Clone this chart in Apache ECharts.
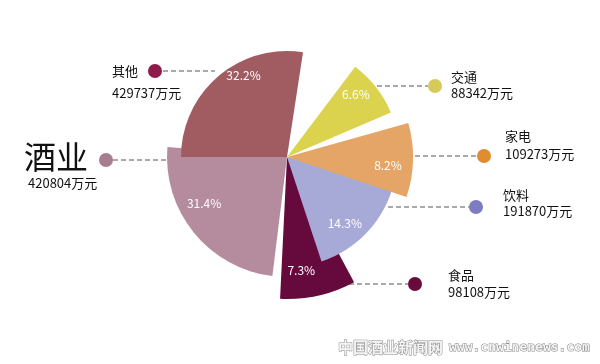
<!DOCTYPE html>
<html><head><meta charset="utf-8">
<script src="https://cdn.jsdelivr.net/npm/echarts@6/dist/echarts.min.js"></script>
<style>html,body{margin:0;padding:0;background:#fff}#c{width:600px;height:364px}</style>
</head><body><div id="c"></div>
<script>
// ---- data ----
const names = ['其他', '交通', '家电', '饮料', '食品', '酒业'];
const values = [429737, 88342, 109273, 191870, 98108, 420804];
const percents = ['32.2%', '6.6%', '8.2%', '14.3%', '7.3%', '31.4%'];
const unit = '万元';

// ---- layout / style (not data) ----
const CX = 287, CY = 157;
const FONT = '"Noto Sans CJK SC", "Noto Sans", sans-serif';
const geom = {
  '其他': { start: 180, end: 81.3, r: 106, color: '#a05c60', dot: '#8e1b4b', lab: [-7, -39],
           dotXY: [155, 71], line: [163, 215], nameXY: [112, 71], valXY: [112, 93], nameSize: 13 },
  '交通': { start: 52.9, end: 23.2, r: 113, color: '#dbd34d', dot: '#d6cb5a', lab: [22, -26],
           dotXY: [435, 86], line: [377, 428], nameXY: [451, 77], valXY: [451, 93], nameSize: 13 },
  '家电': { start: 15.7, end: -18.5, r: 126, color: '#e4a566', dot: '#df8d2e', lab: [35, 7],
           dotXY: [484, 156], line: [415, 477], nameXY: [505, 136], valXY: [505, 154], nameSize: 13 },
  '饮料': { start: -13, end: -71.7, r: 110, color: '#a7a9d7', dot: '#7c7cc2', lab: [15, 27],
           dotXY: [476, 207], line: [388, 469], nameXY: [503, 195], valXY: [503, 211], nameSize: 13 },
  '食品': { start: -61.8, end: -92.8, r: 142, color: '#660a3e', dot: '#690a3b', lab: [-2, 41],
           dotXY: [415, 284], line: [349, 408], nameXY: [448, 275], valXY: [448, 292], nameSize: 13 },
  '酒业': { start: 263, end: 175.2, r: 120, color: '#b48c9e', dot: '#a87d90', lab: [-34, 7],
           dotXY: [106, 160], line: [113, 175], nameXY: [24, 157], valXY: [28, 183], nameSize: 32 }
};
const drawOrder = ['食品', '饮料', '家电', '酒业', '其他', '交通'];

const series = drawOrder.map(function (nm) {
  const i = names.indexOf(nm);
  const g = geom[nm];
  return {
    type: 'pie',
    center: [CX, CY],
    radius: [0, g.r],
    startAngle: g.start,
    endAngle: g.end,
    clockwise: true,
    animation: false,
    silent: true,
    avoidLabelOverlap: false,
    itemStyle: { color: g.color, borderWidth: 0 },
    label: {
      show: true, position: 'inside', formatter: percents[i],
      color: '#ffffff', fontSize: 12, fontFamily: FONT
    },
    labelLine: { show: false },
    labelLayout: { dx: g.lab[0], dy: g.lab[1] },
    emphasis: { disabled: true },
    data: [{ name: names[i], value: values[i] }]
  };
});

const graphic = [];
names.forEach(function (nm, i) {
  const g = geom[nm];
  graphic.push({
    type: 'line', silent: true,
    shape: { x1: g.line[0], y1: g.dotXY[1], x2: g.line[1], y2: g.dotXY[1] },
    style: { stroke: '#555555', lineWidth: 1, lineDash: [5, 3] }
  });
  graphic.push({
    type: 'circle', silent: true,
    shape: { cx: g.dotXY[0], cy: g.dotXY[1], r: 7 },
    style: { fill: g.dot }
  });
  graphic.push({
    type: 'text', silent: true, x: g.nameXY[0], y: g.nameXY[1],
    style: { text: nm, font: g.nameSize + 'px ' + FONT, fill: '#111', align: 'left', verticalAlign: 'middle' }
  });
  graphic.push({
    type: 'text', silent: true, x: g.valXY[0], y: g.valXY[1],
    style: { text: values[i] + unit, font: '13px ' + FONT, fill: '#111', align: 'left', verticalAlign: 'middle' }
  });
});
graphic.push({
  type: 'text', silent: true, x: 338, y: 347,
  style: { text: '中国酒业新闻网', font: 'bold 15px ' + FONT, fill: '#f4f4f4', stroke: '#8a8a8a', lineWidth: 1,
           align: 'left', verticalAlign: 'middle' }
});
graphic.push({
  type: 'text', silent: true, x: 449, y: 348,
  style: { text: 'www.cnwinenews.com', font: 'bold 13px "DejaVu Sans Mono", monospace', fill: '#f4f4f4', stroke: '#8a8a8a', lineWidth: 1,
           align: 'left', verticalAlign: 'middle' }
});

const chart = echarts.init(document.getElementById('c'), null, { renderer: 'canvas' });
chart.setOption({
  backgroundColor: '#ffffff',
  animation: false,
  series: series,
  graphic: graphic
});
</script>
</body></html>
